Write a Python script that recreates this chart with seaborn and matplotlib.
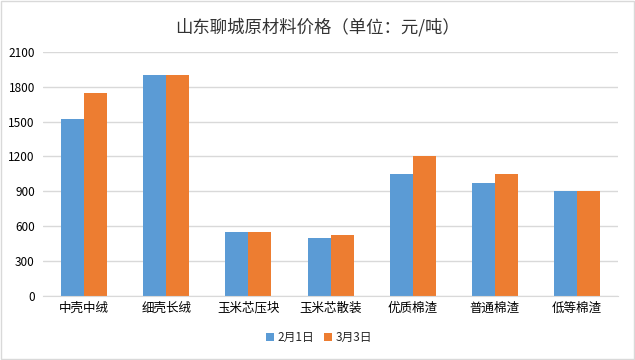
import matplotlib
matplotlib.use("Agg")
import matplotlib.pyplot as plt
import seaborn as sns
import pandas as pd

categories = ["中壳中绒", "细壳长绒", "玉米芯压块", "玉米芯散装", "优质棉渣", "普通棉渣", "低等棉渣"]
feb1 = [1520, 1900, 550, 500, 1050, 975, 900]
mar3 = [1750, 1900, 550, 520, 1200, 1050, 900]
series_names = ["2月1日", "3月3日"]
colors = ["#5B9BD5", "#ED7D31"]
yticks = [0, 300, 600, 900, 1200, 1500, 1800, 2100]

df = pd.DataFrame({
    "品类": categories * 2,
    "价格": feb1 + mar3,
    "日期": [series_names[0]] * len(categories) + [series_names[1]] * len(categories),
})

sns.set_style("white")
plt.rcParams["font.family"] = ["Noto Sans CJK SC", "DejaVu Sans"]

fig = plt.figure(figsize=(6.35, 3.6), dpi=100)
ax = fig.add_axes([0.068, 0.178, 0.905, 0.678])

sns.barplot(data=df, x="品类", y="价格", hue="日期", palette=colors,
            width=0.56, gap=0, saturation=1, ax=ax, errorbar=None, linewidth=0)

ax.set_ylim(0, 2100)
ax.set_yticks(yticks)
ax.set_yticklabels([str(v) for v in yticks], fontsize=8.5, color="#000000")
ax.tick_params(axis="x", labelsize=9, colors="#000000", length=0, pad=4)
ax.tick_params(axis="y", length=0, pad=6)
ax.set_xlim(-0.5, len(categories) - 0.5)
ax.grid(axis="y", color="#D9D9D9", linewidth=1)
ax.set_axisbelow(True)
for s in ["top", "right", "left"]:
    ax.spines[s].set_visible(False)
ax.spines["bottom"].set_color("#D9D9D9")
ax.set_xlabel("")
ax.set_ylabel("")

fig.suptitle("山东聊城原材料价格（单位：元/吨）", y=0.95, fontsize=12.5, color="#333333")

ax.legend(loc="upper center", bbox_to_anchor=(0.48, -0.1), ncol=2, frameon=False,
          fontsize=8.5, handlelength=0.7, handleheight=0.7, handletextpad=0.3,
          columnspacing=0.8)

fig.patches.append(plt.Rectangle((0.0015, 0.0025), 0.997, 0.995, transform=fig.transFigure,
                                 fill=False, edgecolor="#D9D9D9", linewidth=1))

fig.savefig("out.png", dpi=100)
